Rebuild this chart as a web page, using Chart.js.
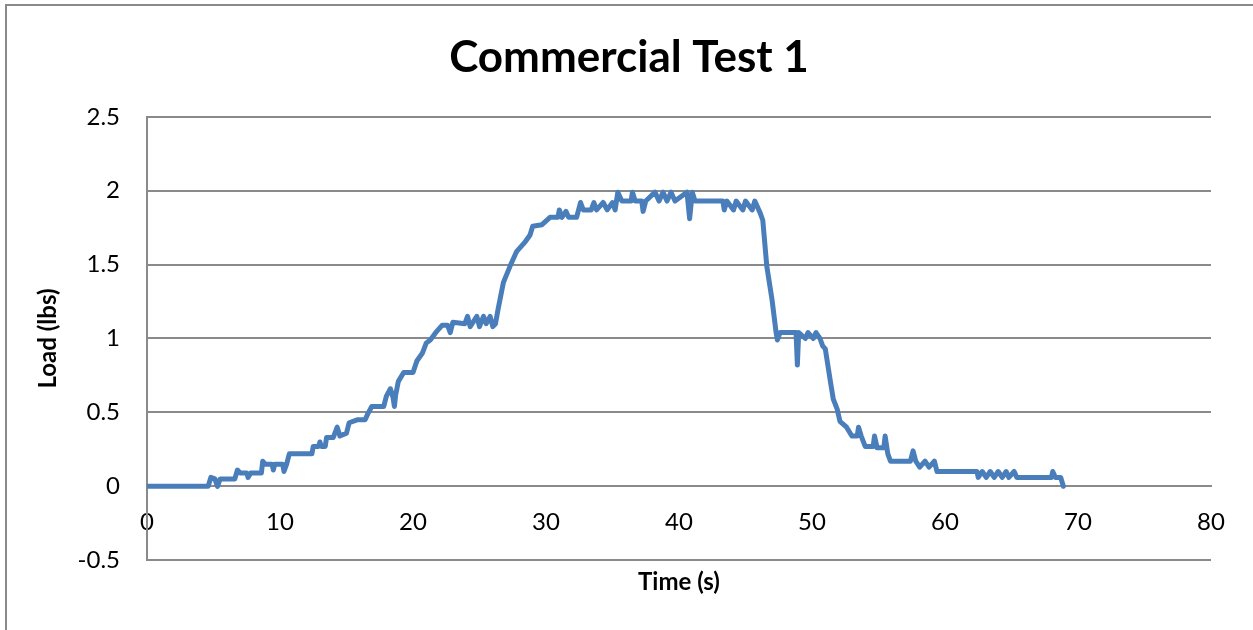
<!DOCTYPE html>
<html>
<head>
<meta charset="utf-8">
<title>Commercial Test 1</title>
<script src="https://cdn.jsdelivr.net/npm/chart.js@4/dist/chart.umd.min.js"></script>
<style>
  html, body { margin: 0; padding: 0; background: #fff; }
  #wrap { position: relative; width: 1253px; height: 630px; }
</style>
</head>
<body>
<div id="wrap"><canvas id="chart"></canvas></div>
<script>
// ---------- Data ----------
const TITLE = 'Commercial Test 1';
const X_TITLE = 'Time (s)';
const Y_TITLE = 'Load (lbs)';

const X_TICKS = [0, 10, 20, 30, 40, 50, 60, 70, 80];
const Y_TICKS = [-0.5, 0, 0.5, 1, 1.5, 2, 2.5];

const TIME_S = [
  0, 4.6, 4.8, 5.1, 5.3, 5.5, 6.6, 6.8, 7.0, 7.5, 7.6, 7.8, 8.6, 8.7, 8.9, 9.4, 9.5, 9.6,
  10.2, 10.3, 10.5, 10.7, 12.4, 12.5, 12.9, 13.0, 13.1, 13.4, 13.5, 14.0, 14.3, 14.5, 15.0,
  15.2, 15.8, 16.4, 16.6, 16.9, 17.8, 18.0, 18.3, 18.5, 18.6, 18.7, 18.9, 19.3, 20.0, 20.3,
  20.7, 21.0, 21.3, 21.8, 22.2, 22.6, 22.8, 23.0, 23.9, 24.1, 24.3, 24.8, 25.0, 25.3, 25.5,
  25.8, 26.0, 26.2, 26.4, 26.8, 27.3, 27.8, 28.4, 28.8, 29.0, 29.7, 30.3, 30.9, 31.0, 31.2,
  31.5, 31.7, 32.3, 32.6, 32.8, 33.4, 33.6, 33.8, 34.3, 34.6, 35.0, 35.2, 35.4, 35.7, 36.4,
  36.5, 36.7, 37.2, 37.3, 37.5, 38.2, 38.5, 38.8, 39.1, 39.4, 39.7, 40.6, 40.8, 41.0, 41.2,
  43.3, 43.4, 43.6, 44.1, 44.3, 44.8, 45.0, 45.5, 45.7, 46.1, 46.3, 46.6, 47.0, 47.3, 47.4,
  47.6, 48.8, 48.9, 49.0, 49.5, 49.7, 50.1, 50.3, 50.6, 50.8, 51.0, 51.4, 51.6, 51.9, 52.1,
  52.6, 53.0, 53.4, 53.5, 53.7, 54.0, 54.6, 54.7, 54.9, 55.4, 55.5, 55.7, 55.9, 57.4, 57.6,
  57.8, 58.1, 58.5, 58.8, 59.2, 59.4, 62.4, 62.5, 62.8, 63.1, 63.4, 63.7, 64.0, 64.3, 64.6,
  64.8, 65.2, 65.4, 68.0, 68.1, 68.3, 68.7, 68.9,
];

const LOAD_LBS = [
  0, 0, 0.06, 0.05, 0.0, 0.05, 0.05, 0.11, 0.09, 0.09, 0.06, 0.09, 0.09, 0.17, 0.15, 0.15, 0.11, 0.15,
  0.15, 0.10, 0.15, 0.22, 0.22, 0.27, 0.27, 0.30, 0.27, 0.27, 0.33, 0.33, 0.40, 0.34, 0.36,
  0.43, 0.45, 0.45, 0.49, 0.54, 0.54, 0.61, 0.66, 0.60, 0.54, 0.62, 0.71, 0.77, 0.77, 0.85,
  0.90, 0.97, 0.99, 1.05, 1.09, 1.09, 1.04, 1.11, 1.10, 1.15, 1.08, 1.15, 1.08, 1.15, 1.10,
  1.15, 1.08, 1.10, 1.20, 1.38, 1.49, 1.59, 1.65, 1.70, 1.76, 1.77, 1.82, 1.82, 1.87, 1.82,
  1.86, 1.82, 1.82, 1.92, 1.87, 1.87, 1.92, 1.87, 1.92, 1.87, 1.92, 1.87, 1.99, 1.93, 1.93,
  1.99, 1.93, 1.93, 1.86, 1.93, 1.99, 1.93, 1.99, 1.93, 1.99, 1.93, 1.99, 1.81, 1.99, 1.93,
  1.93, 1.87, 1.93, 1.87, 1.93, 1.87, 1.93, 1.87, 1.93, 1.85, 1.80, 1.49, 1.26, 1.04, 0.99,
  1.04, 1.04, 0.82, 1.04, 1.00, 1.04, 1.00, 1.04, 1.00, 0.95, 0.93, 0.70, 0.59, 0.52, 0.44,
  0.40, 0.34, 0.34, 0.40, 0.34, 0.27, 0.27, 0.34, 0.26, 0.26, 0.34, 0.22, 0.17, 0.17, 0.24,
  0.17, 0.13, 0.17, 0.13, 0.17, 0.10, 0.10, 0.06, 0.10, 0.06, 0.10, 0.06, 0.10, 0.06, 0.10,
  0.06, 0.10, 0.06, 0.06, 0.10, 0.06, 0.06, 0.0,
];

// ---------- Styling ----------
const FONT = 'Lato, "Open Sans", "DejaVu Sans", sans-serif';
const LINE_BLUE = '#4a7ebb';
const GRID_GREY = '#8a8a8a';

// Outer chart frame (only the left and top edges are inside the picture).
const framePlugin = {
  id: 'frame',
  beforeDraw(chart) {
    const { ctx, width, height } = chart;
    ctx.save();
    ctx.strokeStyle = GRID_GREY;
    ctx.lineWidth = 2;
    ctx.beginPath();
    ctx.moveTo(6, height);
    ctx.lineTo(6, 5);
    ctx.lineTo(width, 5);
    ctx.stroke();
    ctx.restore();
  },
};

const points = TIME_S.map((t, i) => ({ x: t, y: LOAD_LBS[i] }));

new Chart(document.getElementById('chart'), {
  type: 'line',
  data: {
    datasets: [
      {
        label: 'Load',
        data: points,
        borderColor: LINE_BLUE,
        backgroundColor: LINE_BLUE,
        borderWidth: 5,
        borderJoinStyle: 'round',
        borderCapStyle: 'round',
        pointRadius: 0,
        tension: 0,
        fill: false,
      },
    ],
  },
  options: {
    responsive: true,
    maintainAspectRatio: false,
    animation: false,
    events: [],
    layout: { padding: { top: 0, left: 20, right: 15, bottom: 29 } },
    plugins: {
      legend: { display: false },
      tooltip: { enabled: false },
      title: {
        display: true,
        text: TITLE,
        color: '#000',
        font: { family: FONT, size: 44, weight: 'bold' },
        padding: { top: 31, bottom: 33 },
      },
    },
    scales: {
      x: {
        type: 'linear',
        position: { y: 0 },
        min: X_TICKS[0],
        max: X_TICKS[X_TICKS.length - 1],
        afterBuildTicks: (s) => { s.ticks = X_TICKS.map((v) => ({ value: v })); },
        grid: { display: false, drawTicks: false },
        border: { display: true, color: GRID_GREY, width: 2 },
        ticks: {
          color: '#000',
          padding: 22,
          font: { family: FONT, size: 24 },
          callback: (v) => String(v),
        },
      },
      xTitle: {
        type: 'linear',
        position: 'bottom',
        min: X_TICKS[0],
        max: X_TICKS[X_TICKS.length - 1],
        grid: { display: false, drawTicks: false },
        border: { display: false },
        ticks: { display: false },
        title: {
          display: true,
          text: X_TITLE,
          color: '#000',
          font: { family: FONT, size: 24, weight: 'bold' },
          padding: { top: 8, bottom: 4 },
        },
      },
      y: {
        type: 'linear',
        position: 'left',
        min: Y_TICKS[0],
        max: Y_TICKS[Y_TICKS.length - 1],
        afterBuildTicks: (s) => { s.ticks = Y_TICKS.map((v) => ({ value: v })); },
        afterFit: (s) => { s.width = 127; },
        grid: { color: GRID_GREY, lineWidth: 2, drawTicks: false },
        border: { display: true, color: GRID_GREY, width: 2 },
        ticks: {
          color: '#000',
          padding: 27,
          font: { family: FONT, size: 24 },
          callback: (v) => String(v),
        },
        title: {
          display: true,
          text: Y_TITLE,
          color: '#000',
          font: { family: FONT, size: 24, weight: 'bold' },
          padding: { top: 14, bottom: 0 },
        },
      },
      // empty right-hand box so the plot ends where the reference plot ends
      yRight: {
        type: 'linear',
        position: 'right',
        min: Y_TICKS[0],
        max: Y_TICKS[Y_TICKS.length - 1],
        afterFit: (s) => { s.width = 27; },
        grid: { display: false, drawTicks: false },
        border: { display: false },
        ticks: { display: false },
      },
    },
  },
  plugins: [framePlugin],
});
</script>
</body>
</html>
